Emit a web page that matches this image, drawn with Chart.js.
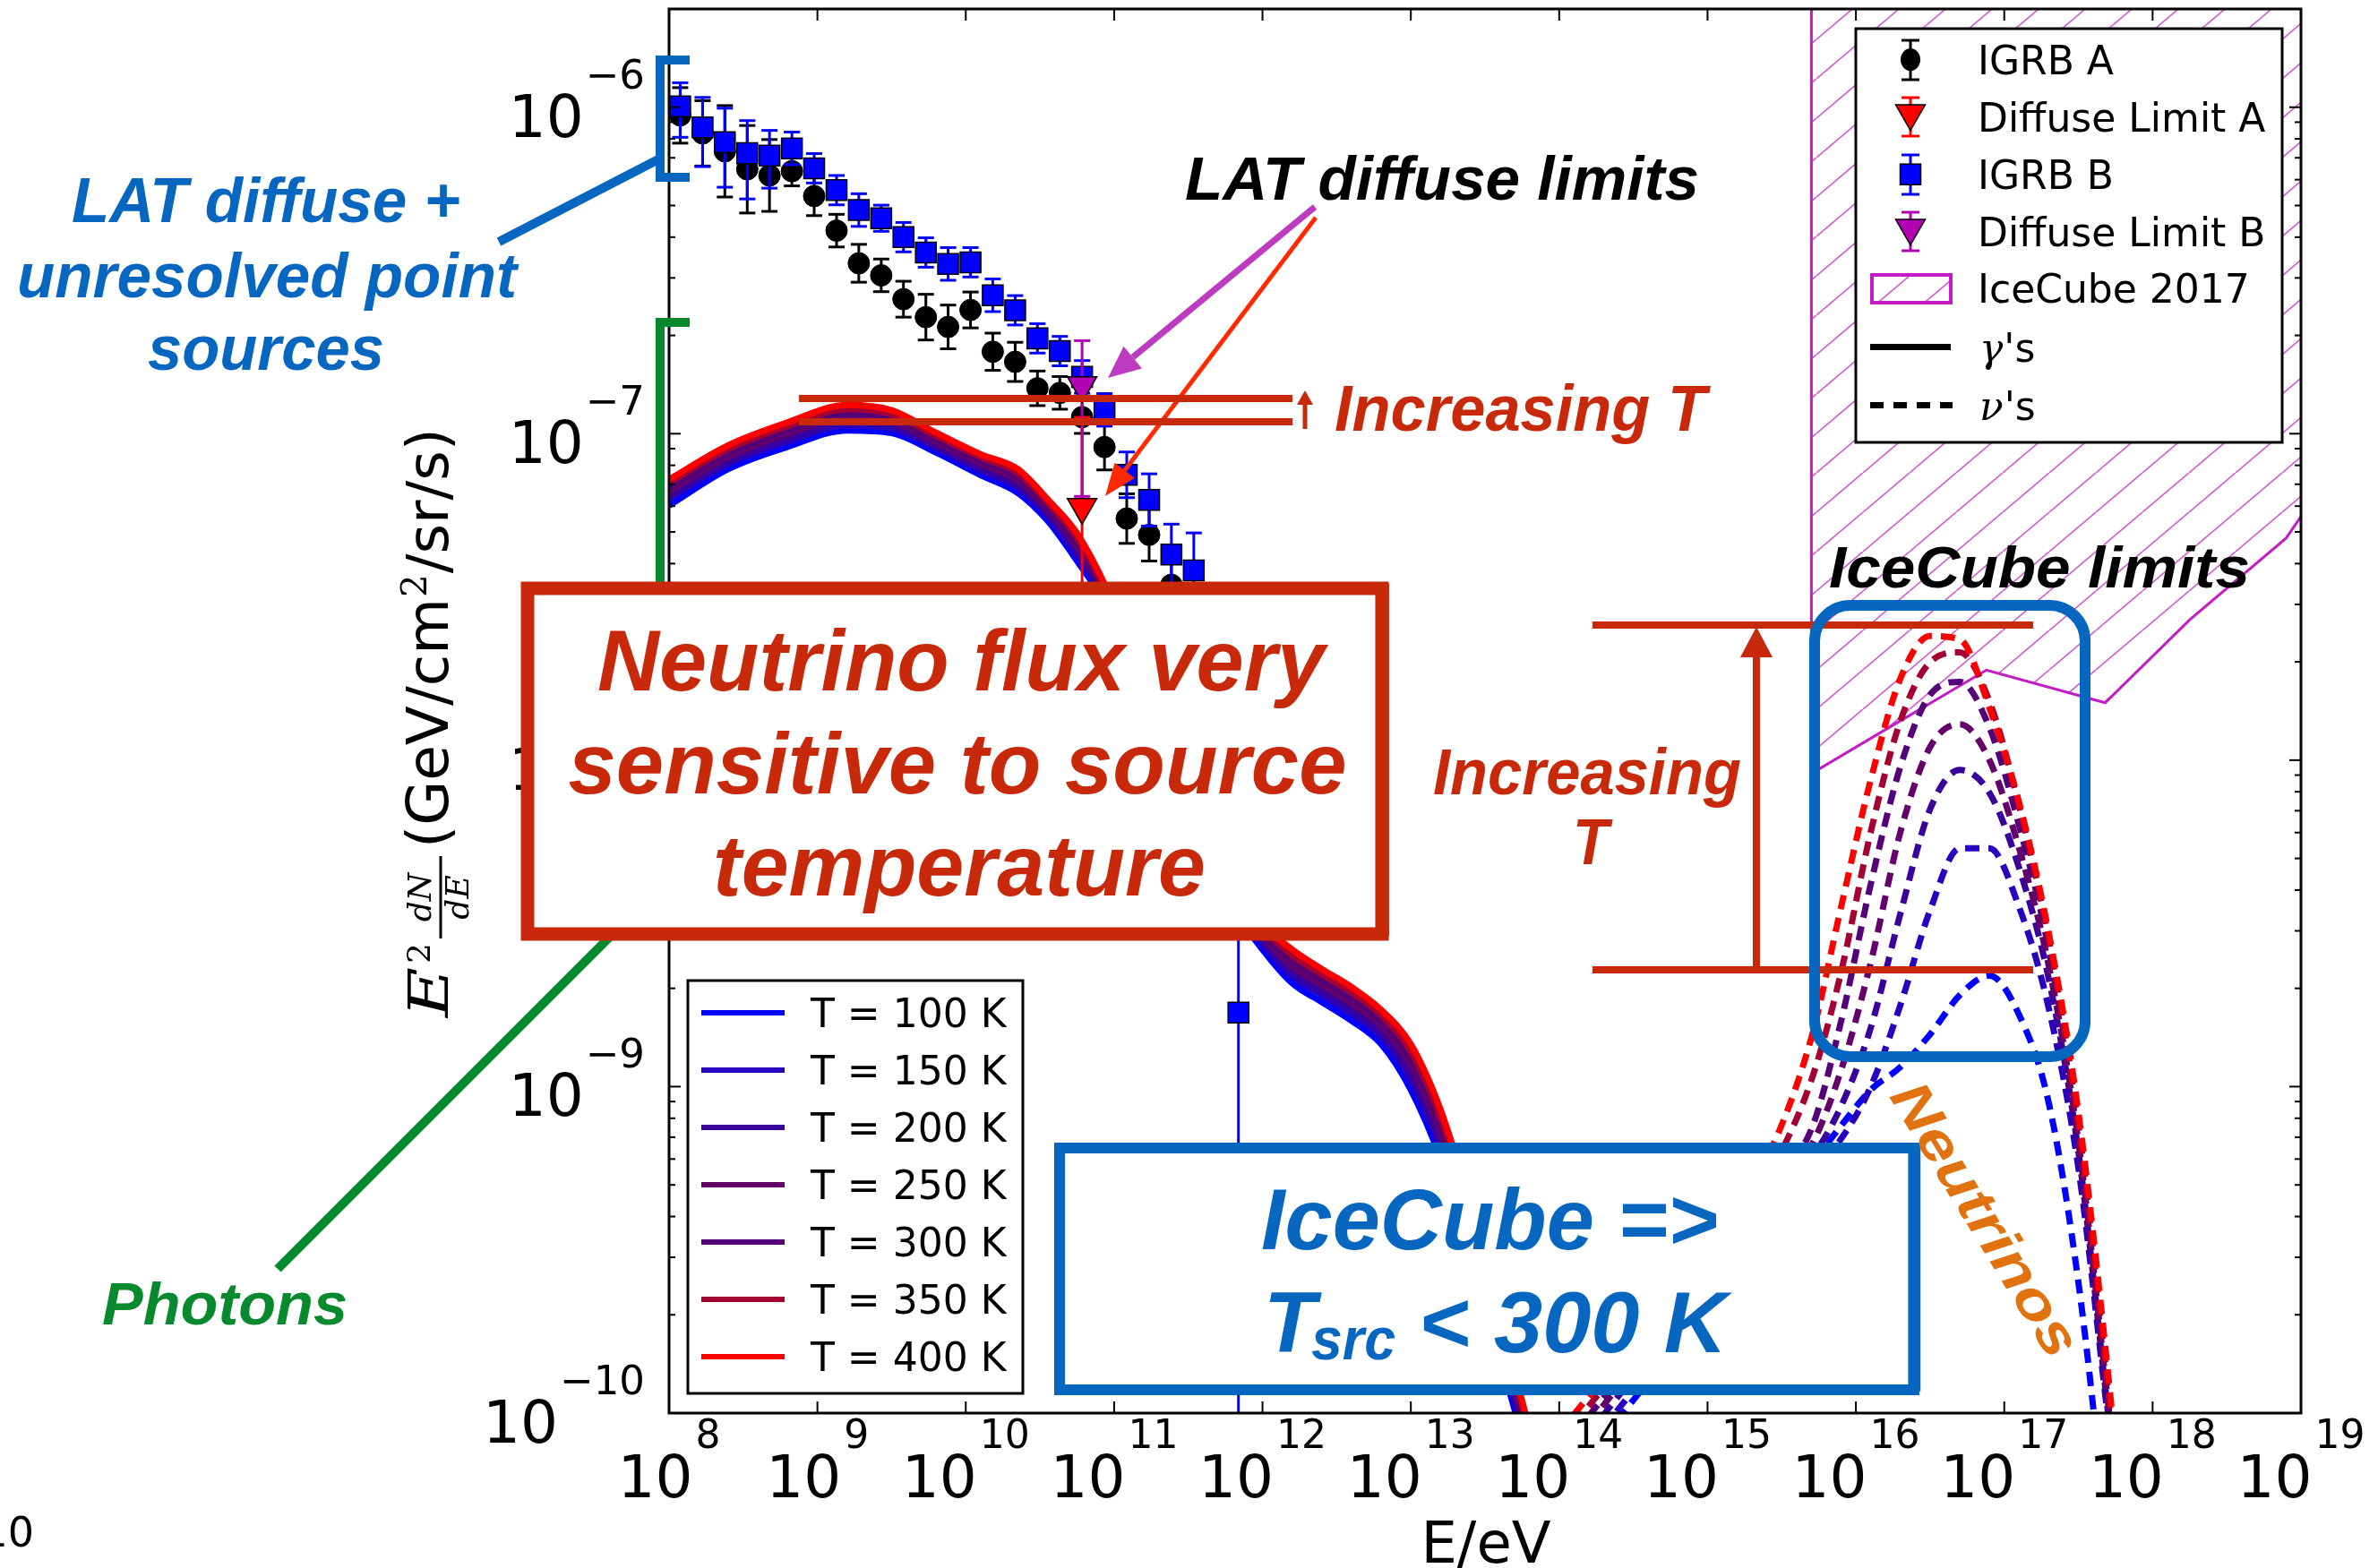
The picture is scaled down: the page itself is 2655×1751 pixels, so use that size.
<!DOCTYPE html>
<html>
<head>
<meta charset="utf-8">
<title>IGRB, diffuse limits and IceCube vs source temperature</title>
<script src="https://cdn.jsdelivr.net/npm/chart.js@4.4.1/dist/chart.umd.min.js"></script>
<style>
  html, body { margin: 0; padding: 0; background: #fff; }
  canvas { display: block; }
</style>
</head>
<body>
<canvas id="spectrum" width="2655" height="1751"></canvas>
<script>
// All values are log10 numbers (E in eV, flux in GeV/cm2/sr/s)
const X_TICK_EXP = [8, 9, 10, 11, 12, 13, 14, 15, 16, 17, 18, 19];
const Y_TICK_EXP = [-10, -9, -8, -7, -6];

const TEMP_LABELS = ['T = 100 K', 'T = 150 K', 'T = 200 K', 'T = 250 K', 'T = 300 K', 'T = 350 K', 'T = 400 K'];
const TEMP_COLORS = ['#0000ff', '#2800c0', '#3a009c', '#65006a', '#540078', '#a50032', '#ff0000'];
const LEGEND_LABELS = ['IGRB A', 'Diffuse Limit A', 'IGRB B', 'Diffuse Limit B', 'IceCube 2017'];

// Fermi IGRB energy bins
const IGRB_LOGE = [8.075, 8.226, 8.376, 8.527, 8.677, 8.828, 8.978, 9.129, 9.279, 9.430, 9.580, 9.731, 9.881,
                   10.032, 10.182, 10.333, 10.483, 10.634, 10.784, 10.935, 11.085, 11.236, 11.386, 11.537, 11.687, 11.838];
const IGRB_A_LOGF = [-6.025, -6.080, -6.135, -6.190, -6.209, -6.196, -6.272, -6.378, -6.478, -6.515, -6.588, -6.643, -6.673,
                     -6.621, -6.749, -6.780, -6.861, -6.875, -6.949, -7.041, -7.260, -7.310, -7.463, -7.600, -7.850];
const IGRB_A_ERR = [0.085, 0.10, 0.14, 0.134, 0.11, 0.045, 0.06, 0.05, 0.058, 0.05, 0.055, 0.07, 0.067,
                    0.055, 0.057, 0.06, 0.053, 0.05, 0.05, 0.07, 0.076, 0.08, 0.10, 0.12, 0.15];
const IGRB_B_LOGF = [-5.997, -6.062, -6.107, -6.141, -6.148, -6.126, -6.187, -6.254, -6.315, -6.340, -6.398, -6.445, -6.480,
                     -6.475, -6.576, -6.622, -6.708, -6.747, -6.826, -6.927, -7.126, -7.203, -7.370, -7.419, -7.620, -8.773];
const IGRB_B_ERR_UP = [0.072, 0.092, 0.104, 0.10, 0.077, 0.05, 0.045, 0.045, 0.05, 0.04, 0.045, 0.045, 0.05,
                       0.045, 0.05, 0.045, 0.045, 0.045, 0.05, 0.05, 0.07, 0.08, 0.093, 0.115, 0.15, 0.9];
const IGRB_B_ERR_DN = [0.095, 0.12, 0.138, 0.14, 0.10, 0.05, 0.045, 0.045, 0.05, 0.04, 0.045, 0.045, 0.05,
                       0.045, 0.05, 0.045, 0.045, 0.045, 0.05, 0.05, 0.07, 0.08, 0.093, 0.115, 0.15, 3.0];

const LIMIT_LOGE = 10.784;
const LIMIT_A_LOGF = -7.225, LIMIT_A_BAR = [-7.80, -6.95];
const LIMIT_B_LOGF = -6.852, LIMIT_B_BAR = [-7.192, -6.715];

// photon spectra (solid)
const PHOTON_LOGE = [8.0, 8.4, 8.8, 9.2, 9.5, 9.8, 10.1, 10.35, 10.55, 10.75, 10.95, 11.2, 11.5, 11.8,
                     12.0, 12.2, 12.4, 12.6, 12.8, 13.0, 13.2, 13.4, 13.6, 13.8];
const PHOTON_100K = [-7.22, -7.108, -7.04, -6.99, -6.998, -7.058, -7.127, -7.181, -7.266, -7.39, -7.53, -7.82, -8.15, -8.45,
                     -8.58, -8.683, -8.741, -8.798, -8.87, -9.01, -9.22, -9.50, -9.83, -10.15];
const PHOTON_150K = [-7.20, -7.092, -7.025, -6.975, -6.984, -7.045, -7.113, -7.166, -7.252, -7.372, -7.518, -7.805, -8.135, -8.43,
                     -8.562, -8.662, -8.72, -8.777, -8.848, -8.982, -9.19, -9.47, -9.80, -10.13];
const PHOTON_200K = [-7.19, -7.083, -7.015, -6.965, -6.975, -7.037, -7.104, -7.156, -7.243, -7.36, -7.51, -7.795, -8.125, -8.415,
                     -8.55, -8.648, -8.706, -8.763, -8.833, -8.962, -9.17, -9.45, -9.78, -10.11];
const PHOTON_250K = [-7.175, -7.07, -7.0, -6.95, -6.962, -7.026, -7.092, -7.142, -7.23, -7.345, -7.50, -7.785, -8.11, -8.40,
                     -8.535, -8.63, -8.688, -8.745, -8.813, -8.935, -9.14, -9.42, -9.76, -10.09];
const PHOTON_300K = [-7.165, -7.06, -6.99, -6.94, -6.953, -7.018, -7.083, -7.132, -7.222, -7.335, -7.495, -7.778, -8.10, -8.39,
                     -8.525, -8.615, -8.674, -8.73, -8.80, -8.918, -9.12, -9.40, -9.74, -10.08];
const PHOTON_350K = [-7.15, -7.047, -6.977, -6.925, -6.94, -7.007, -7.072, -7.12, -7.21, -7.32, -7.485, -7.768, -8.09, -8.375,
                     -8.512, -8.598, -8.657, -8.712, -8.782, -8.893, -9.095, -9.38, -9.72, -10.06];
const PHOTON_400K = [-7.14, -7.035, -6.965, -6.912, -6.928, -6.997, -7.063, -7.108, -7.20, -7.305, -7.475, -7.76, -8.08, -8.36,
                     -8.50, -8.58, -8.64, -8.695, -8.765, -8.87, -9.07, -9.36, -9.70, -10.05];

// neutrino spectra (dashed)
const NU_LOGE = [14.0, 14.5, 15.0, 15.4, 15.7, 15.9, 16.1, 16.3, 16.5, 16.7, 16.9, 17.1, 17.3, 17.5, 17.7, 17.85];
const NU_100K = [-10.25, -9.96, -9.68, -9.44, -9.24, -9.12, -9.01, -8.94, -8.84, -8.72, -8.66, -8.78, -9.05, -9.60, -10.4, -11.0];
const NU_150K = [-10.22, -9.93, -9.65, -9.42, -9.26, -9.16, -9.00, -8.75, -8.46, -8.27, -8.27, -8.45, -8.76, -9.25, -10.02, -10.6];
const NU_200K = [-10.18, -9.89, -9.61, -9.38, -9.22, -9.06, -8.82, -8.47, -8.15, -8.03, -8.10, -8.33, -8.67, -9.20, -10.0, -10.6];
const NU_250K = [-10.15, -9.86, -9.58, -9.35, -9.18, -8.95, -8.62, -8.22, -7.96, -7.89, -8.00, -8.27, -8.63, -9.17, -9.97, -10.6];
const NU_300K = [-10.12, -9.84, -9.56, -9.31, -9.13, -8.80, -8.38, -8.02, -7.80, -7.76, -7.90, -8.20, -8.58, -9.14, -9.95, -10.6];
const NU_350K = [-10.09, -9.81, -9.53, -9.28, -8.98, -8.65, -8.22, -7.88, -7.70, -7.67, -7.82, -8.14, -8.55, -9.12, -9.93, -10.6];
const NU_400K = [-10.06, -9.78, -9.50, -9.22, -8.85, -8.45, -8.06, -7.75, -7.62, -7.63, -7.84, -8.13, -8.53, -9.08, -9.88, -10.6];

// IceCube 2017 excluded region (lower edge)
const ICECUBE_LOGE = [15.70, 15.70, 16.16, 16.88, 17.68, 18.25, 18.90, 19.0];
const ICECUBE_LOGF = [-5.0, -8.041, -7.917, -7.724, -7.824, -7.57, -7.32, -7.254];

const PHOTONS = [PHOTON_100K, PHOTON_150K, PHOTON_200K, PHOTON_250K, PHOTON_300K, PHOTON_350K, PHOTON_400K];
const NEUTRINOS = [NU_100K, NU_150K, NU_200K, NU_250K, NU_300K, NU_350K, NU_400K];

// ---- colours / fonts ----
const SANS = '"DejaVu Sans", "Liberation Sans", sans-serif';
const SERIF = '"DejaVu Serif", "Liberation Serif", serif';
const BLUE = '#0766c0', GREEN = '#07892d', RED = '#c8290b', ORANGE = '#e0720f';
const MAGENTA = '#c21cc2', LIMIT_B_COLOR = '#b400b4';

const p10 = v => Math.pow(10, v);
function pts(xs, ys) { return ys.map((y, i) => ({ x: p10(xs[i]), y: p10(y) })); }
function errorSegments(xs, ys, up, dn) {
  const out = [];
  ys.forEach((y, i) => {
    const x = p10(xs[i]);
    out.push({ x, y: p10(y - dn[i]) }, { x, y: p10(y + up[i]) }, { x, y: null });
  });
  return out;
}

const canvas = document.getElementById('spectrum');
const mainCtx = canvas.getContext('2d');

function makeHatch() {
  const w = 52, h = 44;
  const c = document.createElement('canvas');
  c.width = w; c.height = h;
  const g = c.getContext('2d');
  g.strokeStyle = '#d455d4';
  g.lineWidth = 1.6;
  for (const k of [-1, 0, 1]) {
    g.beginPath(); g.moveTo(k * w, h); g.lineTo(k * w + w, 0); g.stroke();
  }
  return mainCtx.createPattern(c, 'repeat');
}
const hatch = makeHatch();

// ---- datasets ----
const datasets = [];
datasets.push({
  label: 'IceCube 2017', data: pts(ICECUBE_LOGE, ICECUBE_LOGF),
  borderColor: MAGENTA, borderWidth: 3, backgroundColor: hatch, fill: 'end',
  pointRadius: 0, tension: 0, order: 40
});
PHOTONS.forEach((arr, k) => datasets.push({
  label: TEMP_LABELS[k] + ' photons', data: pts(PHOTON_LOGE, arr),
  borderColor: TEMP_COLORS[k], borderWidth: 7, pointRadius: 0, fill: false,
  cubicInterpolationMode: 'monotone', order: 30 - k
}));
NEUTRINOS.forEach((arr, k) => datasets.push({
  label: TEMP_LABELS[k] + ' neutrinos', data: pts(NU_LOGE, arr),
  borderColor: TEMP_COLORS[k], borderWidth: 7, borderDash: [16, 10], pointRadius: 0, fill: false,
  cubicInterpolationMode: 'monotone', order: 20 - k
}));
const errStyle = (color) => ({
  borderColor: color, borderWidth: 3, pointStyle: 'line', pointRadius: 9,
  pointBorderWidth: 3, pointBorderColor: color, showLine: true, spanGaps: false, fill: false
});
datasets.push(Object.assign({ label: 'IGRB A err', order: 9,
  data: errorSegments(IGRB_LOGE, IGRB_A_LOGF, IGRB_A_ERR, IGRB_A_ERR) }, errStyle('#000')));
datasets.push({ label: 'IGRB A', data: pts(IGRB_LOGE, IGRB_A_LOGF), showLine: false,
  pointStyle: 'circle', pointRadius: 12, pointBackgroundColor: '#000', pointBorderColor: '#000', pointBorderWidth: 1, order: 8 });
datasets.push(Object.assign({ label: 'IGRB B err', order: 7,
  data: errorSegments(IGRB_LOGE, IGRB_B_LOGF, IGRB_B_ERR_UP, IGRB_B_ERR_DN) }, errStyle('#0000ff')));
datasets.push({ label: 'IGRB B', data: pts(IGRB_LOGE, IGRB_B_LOGF), showLine: false,
  pointStyle: 'rect', pointRadius: 16.3, pointBackgroundColor: '#0000ff', pointBorderColor: '#000', pointBorderWidth: 1.5, order: 6 });
datasets.push(Object.assign({ label: 'Diffuse Limit A err', order: 5,
  data: [{ x: p10(LIMIT_LOGE), y: p10(LIMIT_A_BAR[0]) }, { x: p10(LIMIT_LOGE), y: p10(LIMIT_A_BAR[1]) }] }, errStyle('#ff0000')));
datasets.push(Object.assign({ label: 'Diffuse Limit B err', order: 4,
  data: [{ x: p10(LIMIT_LOGE), y: p10(LIMIT_B_BAR[0]) }, { x: p10(LIMIT_LOGE), y: p10(LIMIT_B_BAR[1]) }] }, errStyle(LIMIT_B_COLOR)));
datasets.push({ label: 'Diffuse Limit A', data: [{ x: p10(LIMIT_LOGE), y: p10(LIMIT_A_LOGF) }], showLine: false,
  pointStyle: 'triangle', rotation: 180, pointRadius: 19, pointBackgroundColor: '#ff0000', pointBorderColor: '#000', pointBorderWidth: 1.5, order: 1 });
datasets.push({ label: 'Diffuse Limit B', data: [{ x: p10(LIMIT_LOGE), y: p10(LIMIT_B_LOGF) }], showLine: false,
  pointStyle: 'triangle', rotation: 180, pointRadius: 19, pointBackgroundColor: LIMIT_B_COLOR, pointBorderColor: '#000', pointBorderWidth: 1.5, order: 0 });

// ---- drawing helpers ----
function seg(ctx, x1, y1, x2, y2) { ctx.beginPath(); ctx.moveTo(x1, y1); ctx.lineTo(x2, y2); ctx.stroke(); }

function fitText(ctx, str, x, y, width, size, color, align) {
  ctx.font = 'italic bold ' + size + 'px "Liberation Sans", Arial, sans-serif';
  const m = ctx.measureText(str).width;
  ctx.save();
  ctx.translate(align === 'center' ? x - width / 2 : x, y);
  ctx.scale(width / m, 1);
  ctx.fillStyle = color;
  ctx.textAlign = 'left';
  ctx.textBaseline = 'alphabetic';
  ctx.fillText(str, 0, 0);
  ctx.restore();
}

function arrow(ctx, x1, y1, x2, y2, color, lw, headLen, headW) {
  const ang = Math.atan2(y2 - y1, x2 - x1);
  const bx = x2 - headLen * Math.cos(ang), by = y2 - headLen * Math.sin(ang);
  ctx.strokeStyle = color; ctx.lineWidth = lw; ctx.lineCap = 'butt';
  seg(ctx, x1, y1, bx, by);
  ctx.fillStyle = color;
  ctx.beginPath();
  ctx.moveTo(x2, y2);
  ctx.lineTo(bx + headW * Math.sin(ang), by - headW * Math.cos(ang));
  ctx.lineTo(bx - headW * Math.sin(ang), by + headW * Math.cos(ang));
  ctx.closePath(); ctx.fill();
}

// sketch-like frame: a few slightly shifted strokes
const ROUGH = [[0, 0, 1], [3, -2, 0.45], [-3, 2, 0.35], [1, 3, 0.3], [-2, -3, 0.3]];
function roughRect(ctx, x, y, w, h, color, lw) {
  ctx.strokeStyle = color;
  ROUGH.forEach(([dx, dy, f]) => { ctx.lineWidth = lw * f; ctx.strokeRect(x + dx, y + dy, w + dx * 0.5, h - dy * 0.5); });
}
function roundRectPath(ctx, x, y, w, h, r) {
  ctx.beginPath();
  ctx.moveTo(x + r, y);
  ctx.arcTo(x + w, y, x + w, y + h, r);
  ctx.arcTo(x + w, y + h, x, y + h, r);
  ctx.arcTo(x, y + h, x, y, r);
  ctx.arcTo(x, y, x + w, y, r);
  ctx.closePath();
}
function roughRoundRect(ctx, x, y, w, h, r, color, lw) {
  ctx.strokeStyle = color;
  ROUGH.forEach(([dx, dy, f]) => { ctx.lineWidth = lw * f; roundRectPath(ctx, x + dx, y + dy, w, h, r); ctx.stroke(); });
}

function downTriangle(ctx, x, y, r, fill) {
  ctx.beginPath();
  ctx.moveTo(x, y + r);
  ctx.lineTo(x - r * 0.866, y - r / 2);
  ctx.lineTo(x + r * 0.866, y - r / 2);
  ctx.closePath();
  ctx.fillStyle = fill; ctx.fill();
  ctx.strokeStyle = '#000'; ctx.lineWidth = 1.5; ctx.stroke();
}
function legendErr(ctx, x, y1, y2, color) {
  ctx.strokeStyle = color; ctx.lineWidth = 3;
  seg(ctx, x, y1, x, y2); seg(ctx, x - 10, y1, x + 10, y1); seg(ctx, x - 10, y2, x + 10, y2);
}

function drawFrame(ctx, a, xs, ys) {
  ctx.strokeStyle = '#000'; ctx.lineWidth = 2; ctx.lineCap = 'butt';
  X_TICK_EXP.forEach(e => {
    const px = xs.getPixelForValue(p10(e));
    seg(ctx, px, a.bottom, px, a.bottom - 13);
    seg(ctx, px, a.top, px, a.top + 13);
  });
  Y_TICK_EXP.forEach(e => {
    for (let m = 1; m <= 9; m++) {
      const v = m * p10(e);
      if (v >= 2e-6) continue;
      const py = ys.getPixelForValue(v);
      const len = m === 1 ? 13 : 7;
      seg(ctx, a.left, py, a.left + len, py);
      seg(ctx, a.right, py, a.right - len, py);
    }
  });
  ctx.lineWidth = 3;
  ctx.strokeRect(a.left, a.top, a.right - a.left, a.bottom - a.top);
}

function drawTickLabels(ctx, xs, ys) {
  ctx.fillStyle = '#000'; ctx.textAlign = 'left'; ctx.textBaseline = 'alphabetic';
  Y_TICK_EXP.forEach(e => {
    const py = ys.getPixelForValue(p10(e));
    const ex = '\u2212' + Math.abs(e);
    ctx.font = '45px ' + SANS;
    const we = ctx.measureText(ex).width;
    ctx.fillText(ex, 720 - we, py - 21);
    ctx.font = '66px ' + SANS;
    const wb = ctx.measureText('10').width;
    ctx.fillText('10', 720 - we - 2 - wb, py + 33);
  });
  X_TICK_EXP.forEach(e => {
    const px = xs.getPixelForValue(p10(e));
    ctx.font = '66px ' + SANS;
    const wb = ctx.measureText('10').width;
    ctx.font = '44px ' + SANS;
    const we = ctx.measureText(String(e)).width;
    const x0 = px - (wb + 3 + we) / 2;
    ctx.font = '66px ' + SANS; ctx.fillText('10', x0, 1672);
    ctx.font = '44px ' + SANS; ctx.fillText(String(e), x0 + wb + 3, 1617);
  });
}

function drawAxisTitles(ctx) {
  ctx.fillStyle = '#000';
  ctx.font = '64px ' + SANS; ctx.textAlign = 'center';
  ctx.fillText('E/eV', 1659, 1745);
  ctx.textAlign = 'right'; ctx.font = '46px ' + SANS;
  ctx.fillText('10', 38, 1727);

  // y title: E^2 dN/dE (GeV/cm^2/sr/s), reading upwards
  ctx.save();
  ctx.translate(500, 1136);
  ctx.rotate(-Math.PI / 2);
  ctx.textAlign = 'left';
  ctx.font = 'italic 62px ' + SERIF;
  let w = ctx.measureText('E').width;
  ctx.save(); ctx.scale(56 / w, 1); ctx.fillText('E', 0, 0); ctx.restore();
  ctx.font = '36px ' + SERIF;
  ctx.fillText('2', 60, -20);
  ctx.font = 'italic 36px ' + SERIF;
  ctx.textAlign = 'center';
  ctx.fillText('dN', 134, -19);
  ctx.fillText('dE', 134, 23);
  ctx.lineWidth = 3; ctx.strokeStyle = '#000';
  seg(ctx, 88, -8, 180, -8);
  ctx.textAlign = 'left';
  ctx.font = '64px ' + SANS;
  const s1 = '(GeV/cm', s2 = '/sr/s)';
  const w1 = ctx.measureText(s1).width, w2 = ctx.measureText(s2).width;
  ctx.font = '40px ' + SERIF;
  const wsup = ctx.measureText('2').width;
  const k = 469 / (w1 + wsup + 2 + w2);
  ctx.translate(189, 0); ctx.scale(k, 1);
  ctx.font = '64px ' + SANS; ctx.fillText(s1, 0, 0);
  ctx.font = '40px ' + SERIF; ctx.fillText('2', w1 + 1, -24);
  ctx.font = '64px ' + SANS; ctx.fillText(s2, w1 + wsup + 2, 0);
  ctx.restore();
}

function drawLegends(ctx) {
  // temperature legend (lower left)
  ctx.fillStyle = '#fff'; ctx.fillRect(768, 1095, 374, 461);
  ctx.strokeStyle = '#000'; ctx.lineWidth = 3; ctx.strokeRect(768, 1095, 374, 461);
  TEMP_LABELS.forEach((lab, k) => {
    const y = 1131 + 64 * k;
    ctx.strokeStyle = TEMP_COLORS[k]; ctx.lineWidth = 6;
    seg(ctx, 783, y, 876, y);
    ctx.fillStyle = '#000'; ctx.font = '44px ' + SANS; ctx.textAlign = 'left';
    ctx.fillText(lab, 905, y + 16);
  });

  // marker legend (upper right)
  ctx.fillStyle = '#fff'; ctx.fillRect(2072, 32, 476, 462);
  ctx.strokeStyle = '#000'; ctx.lineWidth = 3; ctx.strokeRect(2072, 32, 476, 462);
  const mx = 2133, rows = [66.6, 130.5, 194.7, 258.5, 322, 387.6, 452.5];
  legendErr(ctx, mx, 45, 89, '#000');
  ctx.fillStyle = '#000'; ctx.beginPath(); ctx.ellipse(mx, rows[0], 11, 12.5, 0, 0, Math.PI * 2); ctx.fill();
  legendErr(ctx, mx, 109, 152, '#ff0000');
  downTriangle(ctx, mx, rows[1] - 4, 19, '#ff0000');
  legendErr(ctx, mx, 173, 217, '#0000ff');
  ctx.fillStyle = '#0000ff'; ctx.fillRect(mx - 11.5, rows[2] - 11.5, 23, 23);
  ctx.strokeStyle = '#000'; ctx.lineWidth = 1.5; ctx.strokeRect(mx - 11.5, rows[2] - 11.5, 23, 23);
  legendErr(ctx, mx, 237, 280, LIMIT_B_COLOR);
  downTriangle(ctx, mx, rows[3] - 4, 19, LIMIT_B_COLOR);
  ctx.fillStyle = hatch; ctx.fillRect(2090, 307, 88, 31);
  ctx.strokeStyle = MAGENTA; ctx.lineWidth = 4; ctx.strokeRect(2090, 307, 88, 31);
  ctx.strokeStyle = '#000'; ctx.lineWidth = 7;
  seg(ctx, 2088, rows[5], 2178, rows[5]);
  ctx.setLineDash([15, 11]); seg(ctx, 2088, rows[6], 2180, rows[6]); ctx.setLineDash([]);

  ctx.fillStyle = '#000'; ctx.textAlign = 'left'; ctx.font = '44px ' + SANS;
  LEGEND_LABELS.forEach((lab, k) => ctx.fillText(lab, 2208, rows[k] + 16));
  [['\u03b3', 5], ['\u03bd', 6]].forEach(([g, k]) => {
    ctx.font = 'italic 44px ' + SERIF;
    const wg = ctx.measureText(g).width;
    ctx.fillText(g, 2210, rows[k] + 16);
    ctx.font = '44px ' + SANS;
    ctx.fillText("'s", 2210 + wg + 1, rows[k] + 16);
  });
}

function drawNotes(ctx) {
  ctx.lineCap = 'butt'; ctx.lineJoin = 'miter';
  // blue bracket + label
  ctx.strokeStyle = BLUE; ctx.lineWidth = 10;
  ctx.beginPath(); ctx.moveTo(770, 67); ctx.lineTo(737, 67); ctx.lineTo(737, 198); ctx.lineTo(770, 198); ctx.stroke();
  seg(ctx, 737, 177, 557, 270);
  fitText(ctx, 'LAT diffuse +', 297, 248, 434, 70, BLUE, 'center');
  fitText(ctx, 'unresolved point', 298, 332, 558, 70, BLUE, 'center');
  fitText(ctx, 'sources', 297, 413, 264, 70, BLUE, 'center');

  // green bracket + label
  ctx.strokeStyle = GREEN; ctx.lineWidth = 10;
  ctx.beginPath(); ctx.moveTo(770, 360); ctx.lineTo(737, 360); ctx.lineTo(737, 990); ctx.lineTo(310, 1417); ctx.stroke();
  fitText(ctx, 'Photons', 251, 1479, 274, 67, GREEN, 'center');

  // LAT diffuse limits
  fitText(ctx, 'LAT diffuse limits', 1323, 223, 574, 68, '#000');
  arrow(ctx, 1468, 231, 1237, 422, '#bd3bc0', 7, 36, 16);
  arrow(ctx, 1469, 243, 1234, 554, '#ff2a00', 5, 36, 14);

  // photon "Increasing T"
  ctx.strokeStyle = RED; ctx.lineWidth = 8;
  seg(ctx, 892, 445, 1443, 445);
  seg(ctx, 892, 471, 1443, 471);
  arrow(ctx, 1457, 479, 1457, 436, RED, 5, 16, 9);
  fitText(ctx, 'Increasing T', 1490, 481, 415, 72, RED);

  // red box
  ctx.fillStyle = '#fff'; ctx.fillRect(589, 657, 954, 386);
  roughRect(ctx, 589, 657, 954, 386, RED, 15);
  fitText(ctx, 'Neutrino flux very', 1073, 771, 812, 96, RED, 'center');
  fitText(ctx, 'sensitive to source', 1069, 886, 869, 96, RED, 'center');
  fitText(ctx, 'temperature', 1071, 1000, 550, 96, RED, 'center');

  // neutrino "Increasing T"
  ctx.strokeStyle = RED; ctx.lineWidth = 8;
  seg(ctx, 1778, 698, 2270, 698);
  seg(ctx, 1778, 1083, 2270, 1083);
  arrow(ctx, 1961, 1083, 1961, 700, RED, 8, 34, 18);
  fitText(ctx, 'Increasing', 1772, 887, 344, 72, RED, 'center');
  fitText(ctx, 'T', 1776, 965, 40, 72, RED, 'center');

  // IceCube limits
  fitText(ctx, 'IceCube limits', 2042, 656, 470, 64, '#000');
  roughRoundRect(ctx, 2026, 676, 302, 504, 40, BLUE, 12);

  // blue conclusion box
  ctx.fillStyle = '#fff'; ctx.fillRect(1183, 1282, 954, 270);
  roughRect(ctx, 1183, 1282, 954, 270, BLUE, 12);
  fitText(ctx, 'IceCube =>', 1408, 1395, 510, 96, BLUE);
  fitText(ctx, 'T', 1411, 1510, 58, 96, BLUE);
  fitText(ctx, 'src', 1464, 1518, 94, 66, BLUE);
  fitText(ctx, '< 300 K', 1584, 1510, 344, 96, BLUE);

  // Neutrinos (rotated)
  ctx.save();
  ctx.translate(2218, 1361);
  ctx.rotate(58.6 * Math.PI / 180);
  fitText(ctx, 'Neutrinos', 0, 22, 347, 62, ORANGE, 'center');
  ctx.restore();
}

const annotate = {
  id: 'annotate',
  afterDraw(chart) {
    const ctx = chart.ctx;
    ctx.save();
    drawFrame(ctx, chart.chartArea, chart.scales.x, chart.scales.y);
    drawTickLabels(ctx, chart.scales.x, chart.scales.y);
    drawAxisTitles(ctx);
    drawLegends(ctx);
    drawNotes(ctx);
    ctx.restore();
  }
};

const zeroSize = s => { if (s.isHorizontal()) s.height = 0; else s.width = 0; };

new Chart(mainCtx, {
  type: 'line',
  data: { datasets },
  options: {
    responsive: false,
    animation: false,
    devicePixelRatio: 1,
    events: [],
    layout: { autoPadding: false, padding: { left: 747, right: 86, top: 10, bottom: 173 } },
    plugins: { legend: { display: false }, tooltip: { enabled: false } },
    scales: {
      x: { type: 'logarithmic', min: 1e8, max: 1e19, afterFit: zeroSize,
           ticks: { display: false }, grid: { display: false }, border: { display: false } },
      y: { type: 'logarithmic', min: 1e-10, max: 2e-6, afterFit: zeroSize,
           ticks: { display: false }, grid: { display: false }, border: { display: false } }
    }
  },
  plugins: [annotate]
});
</script>
</body>
</html>
